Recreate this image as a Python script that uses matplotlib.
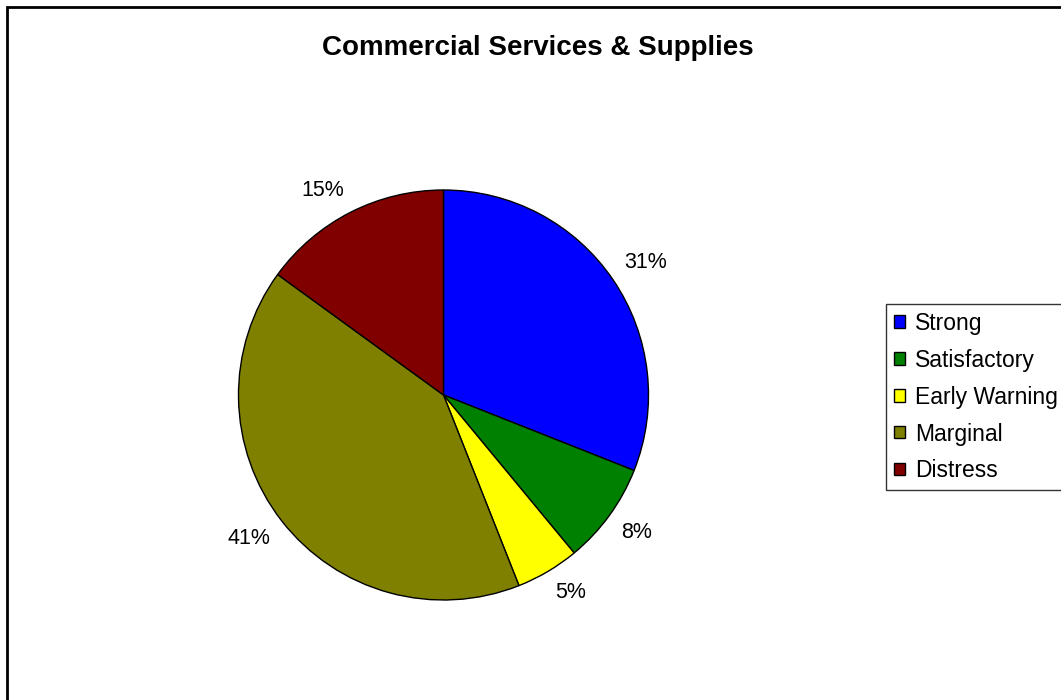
import numpy as np
import matplotlib
matplotlib.use("Agg")
import matplotlib.pyplot as plt
from matplotlib.patches import Rectangle, Patch

categories = ["Strong", "Satisfactory", "Early Warning", "Marginal", "Distress"]
shares = [31, 8, 5, 41, 15]
colors = ["#0000FF", "#008000", "#FFFF00", "#808000", "#800000"]
title = "Commercial Services & Supplies"

W, H = 1061, 700
plt.rcParams["font.family"] = ["Liberation Sans", "DejaVu Sans"]

fig = plt.figure(figsize=(W / 100, H / 100), dpi=100)
fig.patch.set_facecolor("white")

# chart area border (extends past the right and bottom edges)
fig.add_artist(Rectangle((6.5 / W, -0.1), 1.2, 1 - 6.5 / H + 0.1,
                         transform=fig.transFigure, fill=False,
                         edgecolor="black", linewidth=2))

# full-figure axes in pixel units
ax = fig.add_axes([0, 0, 1, 1])

cx, cy, r = 443.5, H - 395, 205
wedges, _ = ax.pie(
    shares, colors=colors, startangle=90, counterclock=False,
    center=(cx, cy), radius=r,
    wedgeprops=dict(edgecolor="black", linewidth=1.0), frame=True)
ax.set_xlim(0, W)
ax.set_ylim(0, H)
ax.set_aspect("equal")
ax.axis("off")

# percentage labels just outside each wedge, anchored by their inner corner
label_r = 1.068 * r
for w, v in zip(wedges, shares):
    mid = np.deg2rad((w.theta1 + w.theta2) / 2)
    dx, dy = np.cos(mid), np.sin(mid)
    x = cx + label_r * dx
    y = cy + label_r * dy + np.sign(dy) * 9
    ax.text(x, y, f"{v}%", ha="left" if dx > 0 else "right", va="center",
            fontsize=15.5, color="black")

fig.text(538 / W, 1 - 48 / H, title, ha="center", va="center",
         fontsize=20, fontweight="bold")

handles = [Patch(facecolor=c, edgecolor="black", linewidth=1) for c in colors]
leg = fig.legend(handles, categories, loc="upper left",
                 bbox_to_anchor=(886 / W, 1 - 304 / H), borderaxespad=0,
                 fontsize=16.5, frameon=True, fancybox=False,
                 handlelength=0.48, handleheight=0.45, handletextpad=0.44,
                 labelspacing=0.61, borderpad=0.33)
leg.get_frame().set_edgecolor("black")
leg.get_frame().set_linewidth(1)

fig.savefig("out.png", dpi=100, facecolor="white")
